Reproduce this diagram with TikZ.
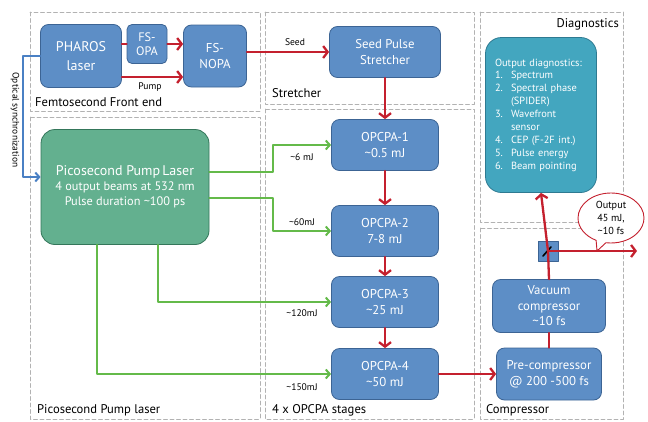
\documentclass[tikz,border=0pt]{standalone}
\usepackage{fontspec}
\setmainfont{PT Sans}
\usetikzlibrary{calc, arrows.meta, shapes.callouts}

\definecolor{boxblue}{RGB}{93,142,198}
\definecolor{boxedge}{RGB}{60,100,148}
\definecolor{diagteal}{RGB}{67,166,191}
\definecolor{diagedge}{RGB}{46,122,145}
\definecolor{pumpgreen}{RGB}{99,176,143}
\definecolor{pumpedge}{RGB}{52,118,90}
\definecolor{beamred}{RGB}{196,32,46}
\definecolor{beamgreen}{RGB}{100,186,74}
\definecolor{syncblue}{RGB}{74,128,196}
\definecolor{framegray}{RGB}{178,178,178}
\def\corner{8pt}

\tikzset{
	block/.style={draw=boxedge, fill=boxblue, line width=0.8pt, rounded corners=\corner,
		text=white, align=center, inner sep=0pt, font=\fontsize{12.8}{15.5}\selectfont},
	frame/.style={draw=framegray, line width=0.7pt, dash pattern=on 4pt off 2.5pt},
	framelabel/.style={anchor=base west, inner sep=0pt, font=\fontsize{12.6}{14}\selectfont},
	beam/.style={draw=beamred, line width=2.3pt},
	seedarrow/.style={beam, -{Straight Barb[length=4.5pt, width=12pt]}},
	pumpbeam/.style={draw=beamgreen, line width=2pt, -{Straight Barb[length=4pt, width=9pt]}},
	energy/.style={font=\fontsize{9.6}{11}\selectfont, inner sep=0pt},
}

\begin{document}
\begin{tikzpicture}[x=1pt, y=-1pt, line cap=round, line join=round]
		\useasboundingbox (0,0) rectangle (648,421);
		
		%Frames
		\draw[frame] (30,12) rectangle (260,111);
		\draw[frame] (265,12) rectangle (474,104);
		\draw[frame] (480,12) rectangle (623,222);
		\draw[frame] (30,117) rectangle (260,419);
		\draw[frame] (265,109) rectangle (474,419);
		\draw[frame] (480,228) rectangle (623,419);
		
		%Frame labels
		\node[framelabel] (frontend) at (35,106) {Femtosecond Front end};
		\node[framelabel] (stretchlabel) at (272,97) {Stretcher};
		\node[framelabel, anchor=base east] (diaglabel) at (619,27) {Diagnostics};
		\node[framelabel] (picolabel) at (37,413) {Picosecond Pump laser};
		\node[framelabel] (stageslabel) at (272,413) {4 x OPCPA stages};
		\node[framelabel] (complabel) at (486,413) {Compressor};
		
		%Front end
		\node[block, minimum width=81pt, minimum height=63pt, font=\fontsize{14}{19}\selectfont] (pharos) at (81,56) {PHAROS\\laser};
		\node[block, minimum width=40pt, minimum height=39pt, rounded corners=5pt, font=\fontsize{12.3}{14.5}\selectfont] (opa) at (147,44) {FS-\\OPA};
		\node[block, minimum width=63pt, minimum height=62pt] (nopa) at (215,56) {FS-\\NOPA};
		\node[block, minimum width=111pt, minimum height=51pt] (stretcher) at (385,52) {Seed Pulse\\Stretcher};
		
		%Amplifier stages
		\node[block, minimum width=107pt, minimum height=51pt] (opcpa1) at (385,145) {OPCPA-1\\\textasciitilde0.5 mJ};
		\node[block, minimum width=107pt, minimum height=51pt] (opcpa2) at (385,231) {OPCPA-2\\7-8 mJ};
		\node[block, minimum width=107pt, minimum height=51pt] (opcpa3) at (385,302) {OPCPA-3\\\textasciitilde25 mJ};
		\node[block, minimum width=107pt, minimum height=51pt] (opcpa4) at (385,374) {OPCPA-4\\\textasciitilde50 mJ};
		
		%Pump laser
		\node[block, draw=pumpedge, fill=pumpgreen, minimum width=168pt, minimum height=115pt, rounded corners=14pt,
			font=\fontsize{12.3}{15.5}\selectfont] (pico) at (125,187)
			{{\fontsize{14}{16}\selectfont Picosecond Pump\,Laser}\\[-1pt]4 output beams at 532 nm\\Pulse duration \textasciitilde100 ps};
		
		%Compressor
		\node[block, minimum width=105pt, minimum height=52pt] (precomp) at (549,374) {Pre-compressor\\@ 200 -500 fs};
		\node[block, minimum width=113pt, minimum height=53pt] (vaccomp) at (549,306) {Vacuum\\compressor\\\textasciitilde10 fs};
		\node[draw=boxedge, fill=boxblue, line width=0.8pt, minimum size=20pt, inner sep=0pt] (mirror) at (548,251) {};
		\draw[line width=1.6pt] ($(mirror)+(-5,5)$) -- ($(mirror)+(3,-4)$);
		
		%Diagnostics
		\node[block, draw=diagedge, fill=diagteal, minimum width=111pt, minimum height=155pt, rounded corners=16pt,
			text width=92pt, align=left, font=\fontsize{10.4}{12.9}\selectfont] (diag) at (541,115)
			{Output diagnostics:\\
			\makebox[16pt][l]{1.}Spectrum\\
			\makebox[16pt][l]{2.}Spectral phase\\
			\hspace*{16pt}(SPIDER)\\
			\makebox[16pt][l]{3.}Wavefront\\
			\hspace*{16pt}sensor\\
			\makebox[16pt][l]{4.}CEP (F-2F int.)\\
			\makebox[16pt][l]{5.}Pulse energy\\
			\makebox[16pt][l]{6.}Beam pointing};
		
		%Output callout
		\coordinate (outend) at (637,251);
		\coordinate (outtip) at (597,251);
		\node[ellipse callout, draw=beamred, fill=white, line width=0.9pt, minimum width=66pt, minimum height=50pt,
			callout absolute pointer={(outtip)}, callout pointer arc=18, align=center, inner sep=0pt,
			font=\fontsize{10.2}{13}\selectfont] (output) at (611,218) {Output\\45 mJ,\\\textasciitilde10 fs};
		
		%Seed beam
		\draw[beam] (pharos.east |- opa.west) -- (opa.west);
		\draw[seedarrow] (opa.east) -- (opa.east -| nopa.west);
		\draw[seedarrow] (pharos.east |- 0,77) -- (nopa.west |- 0,77);
		\draw[seedarrow] (nopa.east |- stretcher.west) -- (stretcher.west);
		\draw[seedarrow] (stretcher.south) -- (opcpa1.north);
		\draw[seedarrow] (opcpa1.south) -- (opcpa2.north);
		\draw[seedarrow] (opcpa2.south) -- (opcpa3.north);
		\draw[seedarrow] (opcpa3.south) -- (opcpa4.north);
		\draw[seedarrow] (opcpa4.east) -- (precomp.west);
		\draw[beam] (precomp.north) -- (vaccomp.south);
		\draw[beam] (vaccomp.north) -- (mirror.center);
		\draw[seedarrow] (mirror.center) -- (diag.south);
		\draw[seedarrow] (mirror.center) -- (outend);
		
		%Pump beams
		\draw[pumpbeam] (pico.east |- 0,172) -| ([xshift=-58pt]opcpa1.west) -- (opcpa1.west);
		\draw[pumpbeam] (pico.east |- 0,198) -| ([xshift=-58pt]opcpa2.west) -- (opcpa2.west);
		\draw[pumpbeam] (pico.south -| 158,0) |- (opcpa3.west);
		\draw[pumpbeam] (pico.south -| 97,0) |- (opcpa4.west);
		
		%Synchronization
		\draw[draw=syncblue, line width=2pt, -{Straight Barb[length=4pt, width=9pt]}]
			(pharos.west) -- ++(-17,0) |- (pico.west |- 0,177);
		
		%Labels
		\node[energy] (pumplabel) at (150,87) {Pump};
		\node[energy] (seedlabel) at (295,42) {Seed};
		\node[energy] (e1) at (302,157) {\textasciitilde6 mJ};
		\node[energy] (e2) at (302,222) {\textasciitilde60mJ};
		\node[energy] (e3) at (302,313) {\textasciitilde120mJ};
		\node[energy] (e4) at (302,387) {\textasciitilde150mJ};
		\node[rotate=-90, inner sep=0pt, font=\fontsize{9.4}{10}\selectfont] (synclabel) at (15,120) {Optical synchronization};
		
	\end{tikzpicture}
\end{document}
